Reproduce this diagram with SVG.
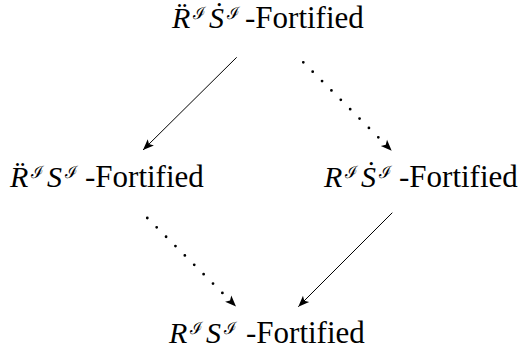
<svg xmlns="http://www.w3.org/2000/svg" width="524" height="349" viewBox="0 0 524 349">
<defs>
<marker id="ah" markerUnits="userSpaceOnUse" markerWidth="12" markerHeight="10" refX="11" refY="5" orient="auto" viewBox="0 0 12 10">
<path d="M11,5 L0,0.6 L2.6,5 L0,9.4 Z" fill="#000" stroke="none"/>
</marker>
</defs>
<g id="connectors" stroke="#000" fill="none">
<line stroke-width="1" x1="236.7" y1="57.3" x2="143" y2="150" marker-end="url(#ah)"/>
<line stroke-width="2.8" stroke-linecap="round" stroke-dasharray="0 13.26" x1="303.3" y1="62.3" x2="391.7" y2="150.7" marker-end="url(#ah)"/>
<line stroke-width="2.8" stroke-linecap="round" stroke-dasharray="0 13.26" x1="147.3" y1="218" x2="236" y2="306.5" marker-end="url(#ah)"/>
<line stroke-width="1" x1="392.3" y1="212.7" x2="298.3" y2="306.7" marker-end="url(#ah)"/>
</g>
<g id="top">
<text font-family="Liberation Serif" font-style="italic" font-size="30" x="172" y="28">R&#x308;</text>
<text font-family="DejaVu Serif" font-size="17" x="193" y="19">ℐ</text>
<text font-family="Liberation Serif" font-style="italic" font-size="30" x="209" y="28">S&#x307;</text>
<text font-family="DejaVu Serif" font-size="17" x="227" y="19">ℐ</text>
<text font-family="Liberation Serif" font-size="31" x="245" y="28">-Fortified</text>
</g>
<g id="left">
<text font-family="Liberation Serif" font-style="italic" font-size="30" x="10" y="187">R&#x308;</text>
<text font-family="DejaVu Serif" font-size="17" x="31" y="178">ℐ</text>
<text font-family="Liberation Serif" font-style="italic" font-size="30" x="47" y="187">S</text>
<text font-family="DejaVu Serif" font-size="17" x="65" y="178">ℐ</text>
<text font-family="Liberation Serif" font-size="31" x="85" y="187">-Fortified</text>
</g>
<g id="right">
<text font-family="Liberation Serif" font-style="italic" font-size="30" x="324" y="187">R</text>
<text font-family="DejaVu Serif" font-size="17" x="345" y="178">ℐ</text>
<text font-family="Liberation Serif" font-style="italic" font-size="30" x="361" y="187">S&#x307;</text>
<text font-family="DejaVu Serif" font-size="17" x="379" y="178">ℐ</text>
<text font-family="Liberation Serif" font-size="31" x="399" y="187">-Fortified</text>
</g>
<g id="bottom">
<text font-family="Liberation Serif" font-style="italic" font-size="30" x="169" y="343">R</text>
<text font-family="DejaVu Serif" font-size="17" x="190" y="334">ℐ</text>
<text font-family="Liberation Serif" font-style="italic" font-size="30" x="206" y="343">S</text>
<text font-family="DejaVu Serif" font-size="17" x="224" y="334">ℐ</text>
<text font-family="Liberation Serif" font-size="31" x="246" y="343">-Fortified</text>
</g>
</svg>
